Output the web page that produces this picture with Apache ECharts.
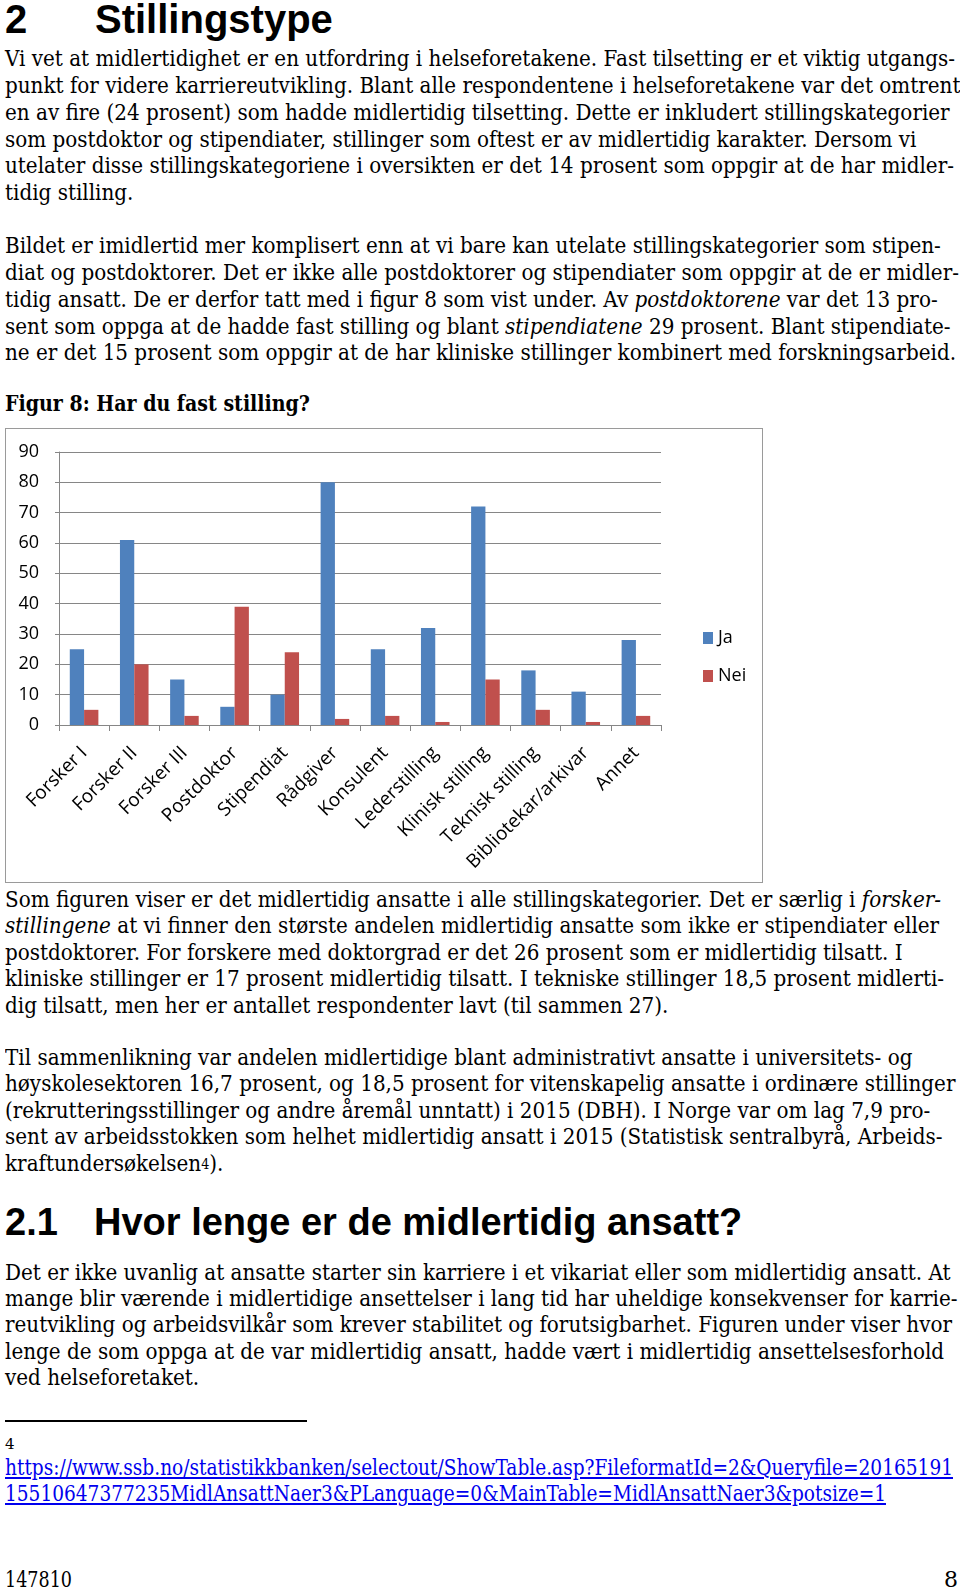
<!DOCTYPE html>
<html><head><meta charset="utf-8">
<script src="https://cdn.jsdelivr.net/npm/echarts@6/dist/echarts.min.js"></script>
<style>
html,body{margin:0;padding:0;background:#fff;}
body{width:960px;height:1591px;position:relative;overflow:hidden;}
.h{position:absolute;font-family:'Liberation Sans',Arial,sans-serif;font-weight:bold;color:#000;line-height:1;white-space:pre;}
.serif{position:absolute;left:5px;font-family:'DejaVu Serif',serif;font-size:22px;color:#000;white-space:pre;transform-origin:0 0;}
.serif .ln{display:block;}
.link{color:#0000ee;text-decoration:underline;}
#chartBox{position:absolute;left:5px;top:428px;width:758px;height:455px;box-sizing:border-box;border:1.5px solid #9a9a9a;}
#chart{position:absolute;left:5px;top:428px;width:758px;height:455px;}
#rule{position:absolute;left:5px;top:1420px;width:302px;height:1.5px;background:#000;}
</style></head>
<body>
<div class="h" style="left:5px;top:-1px;font-size:40px;">2</div>
<div class="h" style="left:95px;top:-1px;font-size:40px;">Stillingstype</div>
<div class="h" style="left:5px;top:1203px;font-size:38px;">2.1</div>
<div class="h" style="left:94px;top:1203px;font-size:38px;">Hvor lenge er de midlertidig ansatt?</div>
<div id="chartBox"></div>
<div id="chart"></div>
<div id="rule"></div>
<div id="texts"></div>
<script>
// ---- Chart data ----
const categories = ['Forsker I','Forsker II','Forsker III','Postdoktor','Stipendiat','Rådgiver','Konsulent','Lederstilling','Klinisk stilling','Teknisk stilling','Bibliotekar/arkivar','Annet'];
const jaValues  = [25, 61, 15, 6, 10, 80, 25, 32, 72, 18, 11, 28];
const neiValues = [5, 20, 3, 39, 24, 2, 3, 1, 15, 5, 1, 3];
const seriesNames = ['Ja','Nei'];
const yMin = 0, yMax = 90, yStep = 10;

// ---- Page text ----
const p1 = [
 'Vi vet at midlertidighet er en utfordring i helseforetakene. Fast tilsetting er et viktig utgangs-',
 'punkt for videre karriereutvikling. Blant alle respondentene i helseforetakene var det omtrent',
 'en av fire (24 prosent) som hadde midlertidig tilsetting. Dette er inkludert stillingskategorier',
 'som postdoktor og stipendiater, stillinger som oftest er av midlertidig karakter. Dersom vi',
 'utelater disse stillingskategoriene i oversikten er det 14 prosent som oppgir at de har midler-',
 'tidig stilling.'
];
const p2 = [
 'Bildet er imidlertid mer komplisert enn at vi bare kan utelate stillingskategorier som stipen-',
 'diat og postdoktorer. Det er ikke alle postdoktorer og stipendiater som oppgir at de er midler-',
 'tidig ansatt. De er derfor tatt med i figur 8 som vist under. Av <i>postdoktorene</i> var det 13 pro-',
 'sent som oppga at de hadde fast stilling og blant <i>stipendiatene</i> 29 prosent. Blant stipendiate-',
 'ne er det 15 prosent som oppgir at de har kliniske stillinger kombinert med forskningsarbeid.'
];
const caption = ['<b>Figur 8: Har du fast stilling?</b>'];
const p3 = [
 'Som figuren viser er det midlertidig ansatte i alle stillingskategorier. Det er særlig i <i>forsker-</i>',
 '<i>stillingene</i> at vi finner den største andelen midlertidig ansatte som ikke er stipendiater eller',
 'postdoktorer. For forskere med doktorgrad er det 26 prosent som er midlertidig tilsatt. I',
 'kliniske stillinger er 17 prosent midlertidig tilsatt. I tekniske stillinger 18,5 prosent midlerti-',
 'dig tilsatt, men her er antallet respondenter lavt (til sammen 27).'
];
const p4 = [
 'Til sammenlikning var andelen midlertidige blant administrativt ansatte i universitets- og',
 'høyskolesektoren 16,7 prosent, og 18,5 prosent for vitenskapelig ansatte i ordinære stillinger',
 '(rekrutteringsstillinger og andre åremål unntatt) i 2015 (DBH). I Norge var om lag 7,9 pro-',
 'sent av arbeidsstokken som helhet midlertidig ansatt i 2015 (Statistisk sentralbyrå, Arbeids-',
 'kraftundersøkelsen<span style="font-size:14px;position:relative;top:-2px;">4</span>).'
];
const p5 = [
 'Det er ikke uvanlig at ansatte starter sin karriere i et vikariat eller som midlertidig ansatt. At',
 'mange blir værende i midlertidige ansettelser i lang tid har uheldige konsekvenser for karrie-',
 'reutvikling og arbeidsvilkår som krever stabilitet og forutsigbarhet. Figuren under viser hvor',
 'lenge de som oppga at de var midlertidig ansatt, hadde vært i midlertidig ansettelsesforhold',
 'ved helseforetaket.'
];
const urlLines = [
 '<span class="link">https://www.ssb.no/statistikkbanken/selectout/ShowTable.asp?FileformatId=2&amp;Queryfile=20165191</span>',
 '<span class="link">15510647377235MidlAnsattNaer3&amp;PLanguage=0&amp;MainTable=MidlAnsattNaer3&amp;potsize=1</span>'
];
const footer = ['147810'];

const blocks = [
 {lines:p1, base:67, lh:26.9, fitW:950},
 {lines:p2, base:254, lh:26.9},
 {lines:caption, base:410.5, lh:26, fitW:305, own:true},
 {lines:p3, base:907.5, lh:26.6},
 {lines:p4, base:1065.5, lh:26.6},
 {lines:p5, base:1280.5, lh:26.4},
 {lines:urlLines, base:1476, lh:26.2, fitW:948, own:true},
 {lines:footer, base:1588, lh:26, fitW:67, own:true}
];
const FS = 22, ASC = 1901/2048*FS, CONTENT = (1901+483)/2048*FS;
const host = document.getElementById('texts');
blocks.forEach(b => {
  const d = document.createElement('div');
  d.className = 'serif';
  d.style.top = (b.base - ((b.lh - CONTENT)/2 + ASC)) + 'px';
  d.innerHTML = b.lines.map(l => '<div class="ln" style="height:'+b.lh+'px;line-height:'+b.lh+'px;"><span>'+l+'</span></div>').join('');
  host.appendChild(d);
  b.el = d;
});
// footnote number
const fn = document.createElement('div');
fn.className='serif'; fn.style.fontSize='15px'; fn.style.top='1435px'; fn.textContent='4';
host.appendChild(fn);
// page number
const pg = document.createElement('div');
pg.className='serif'; pg.style.left='auto'; pg.style.right='2px';
pg.style.top=(1588 - ((26 - CONTENT)/2 + ASC))+'px'; pg.style.lineHeight='26px'; pg.textContent='8';
host.appendChild(pg);

function fit(){
  blocks.forEach(b => b.el.style.transform = 'none');
  const natural = b => b.el.querySelector('span').getBoundingClientRect().width;
  const s = blocks[0].fitW / natural(blocks[0]);
  blocks.forEach(b => {
    const sc = b.own ? b.fitW / natural(b) : s;
    b.el.style.transform = 'scaleX(' + sc + ')';
  });
}
fit();
if (document.fonts && document.fonts.ready) document.fonts.ready.then(fit);

// ---- Chart ----
const axisGrey = '#868686';
const chart = echarts.init(document.getElementById('chart'), null, {renderer:'canvas'});
chart.setOption({
  animation: false,
  textStyle: {fontFamily: 'Open Sans'},
  grid: {left: 54, top: 24, width: 602, height: 273, containLabel: false},
  legend: {
    orient: 'vertical', left: 693, top: 196, itemWidth: 10, itemHeight: 12, itemGap: 20,
    icon: 'rect', data: seriesNames,
    textStyle: {fontSize: 18, color: '#000', fontFamily: 'Open Sans'}
  },
  xAxis: {
    type: 'category', data: categories,
    axisLine: {lineStyle: {color: axisGrey, width: 1}},
    axisTick: {show: true, length: 6, lineStyle: {color: axisGrey}},
    axisLabel: {rotate: 45, interval: 0, margin: 25, fontSize: 19, color: '#000', verticalAlign: 'middle', fontFamily: 'Open Sans'}
  },
  yAxis: {
    type: 'value', min: yMin, max: yMax, interval: yStep,
    axisLine: {show: true, lineStyle: {color: axisGrey, width: 1}},
    axisTick: {show: true, length: 4, lineStyle: {color: axisGrey}},
    splitLine: {show: true, lineStyle: {color: axisGrey, width: 1}},
    axisLabel: {margin: 20, fontSize: 18, color: '#000', fontFamily: 'Open Sans'}
  },
  series: [
    {name: seriesNames[0], type: 'bar', data: jaValues, barWidth: '28.5%', barGap: '0%', itemStyle: {color: '#4F81BD'}},
    {name: seriesNames[1], type: 'bar', data: neiValues, barWidth: '28.5%', barGap: '0%', itemStyle: {color: '#C0504D'}}
  ]
});
</script>
</body></html>
